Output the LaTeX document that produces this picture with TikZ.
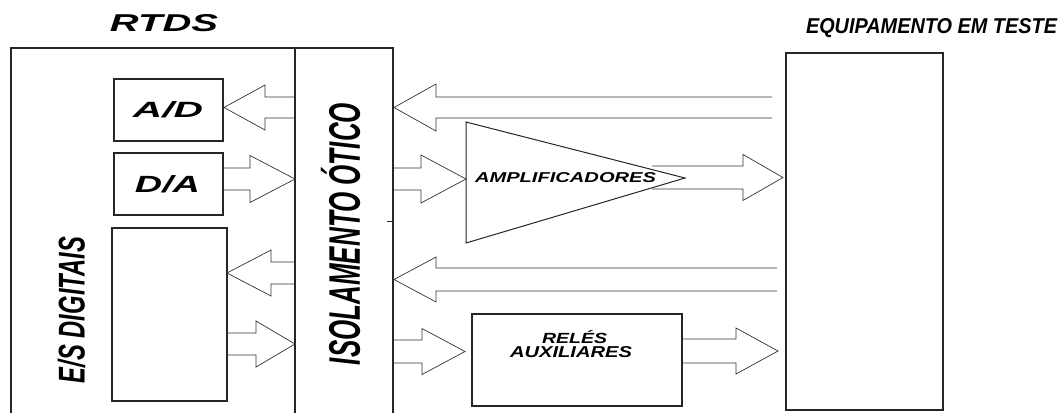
\documentclass[tikz,border=0pt]{standalone}
\usepackage{fontspec}
\setmainfont{Liberation Sans}
\usepackage{graphicx}
% block arrow: start x, head base x, tip x, centre y, shaft half width, head half width
\newcommand\blockarrow[6]{%
  \draw[barrow] (#1,#4-#5) -- (#2,#4-#5) -- (#2,#4-#6) -- (#3,#4)
    -- (#2,#4+#6) -- (#2,#4+#5) -- (#1,#4+#5);}
\begin{document}
\begin{tikzpicture}[x=1pt,y=-1pt,
  frame/.style={draw=black!85, line width=1.2pt},
  box/.style={draw=black!85, line width=1.2pt, inner sep=0pt, outer sep=0pt},
  txt/.style={inner sep=0pt, outer sep=0pt, font=\bfseries\itshape},
  barrow/.style={draw=black!80, line width=0.7pt, line join=miter}]
\useasboundingbox (0,0) rectangle (1064,413);
\fill[white] (0,0) rectangle (1064,413);

% titles
\node[txt] (trtds) at (164,23.5) {\resizebox{108pt}{17pt}{RTDS}};
\node[txt] (teq) at (931.5,28.5) {\resizebox{251pt}{15pt}{EQUIPAMENTO EM TESTE}};

% RTDS chassis and optical isolation strip
\draw[frame] (11,413) -- (11,48) -- (393,48) -- (393,413);
\draw[frame] (295,48) -- (295,413);
\draw[black!85, line width=0.8pt] (387,221) -- (393,221);
\node[txt, rotate=90] (tiso) at (340.5,234) {\resizebox{262pt}{39pt}{ISOLAMENTO ÓTICO}};
\node[txt, rotate=90] (tes) at (71.5,310) {\resizebox{146pt}{27pt}{E/S DIGITAIS}};

% converter and digital I/O boxes
\node[box, minimum width=109pt, minimum height=62pt] (ad) at (168.5,110) {};
\node[txt] at (168,110) {\resizebox{70pt}{16pt}{A/D}};
\node[box, minimum width=109pt, minimum height=62pt] (da) at (168.5,184) {};
\node[txt] at (167.5,184.5) {\resizebox{65pt}{17pt}{D/A}};
\node[box, minimum width=115pt, minimum height=173pt] (es) at (169.5,314.5) {};

% amplifier
\draw[draw=black!85, line width=1pt, line join=miter] (466,122) coordinate (ampa)
  -- (685,178) coordinate (ampout) -- (466,243) coordinate (ampb) -- cycle;
\node[txt] (tamp) at (565.5,178) {\resizebox{181pt}{10pt}{AMPLIFICADORES}};

% auxiliary relays
\node[box, minimum width=210pt, minimum height=92pt] (rel) at (577,360) {};
\node[txt] at (574.5,337) {\resizebox{65pt}{13pt}{RELÉS}};
\node[txt] at (571,352.5) {\resizebox{122pt}{11pt}{AUXILIARES}};

% equipment under test
\node[box, minimum width=157pt, minimum height=357pt] (eq) at (864.5,231.5) {};

% signal paths inside RTDS
\blockarrow{295}{265}{224}{107.5}{10.5}{22.5}
\blockarrow{223}{250}{295}{179}{11}{23.5}
\blockarrow{295}{271}{227}{273}{11}{23}
\blockarrow{227}{256}{295}{344}{11}{23}

% signal paths between isolation and equipment
\blockarrow{772}{436}{394}{107.5}{10.5}{23.5}
\blockarrow{394}{421}{466}{179}{11}{24}
\blockarrow{652}{743}{783}{177.5}{11.5}{23}
\blockarrow{777}{436}{394}{279.5}{11.5}{22.5}
\blockarrow{394}{422}{465}{351.5}{11.5}{23}
\blockarrow{682}{736}{778}{351}{12}{23}
\end{tikzpicture}
\end{document}
